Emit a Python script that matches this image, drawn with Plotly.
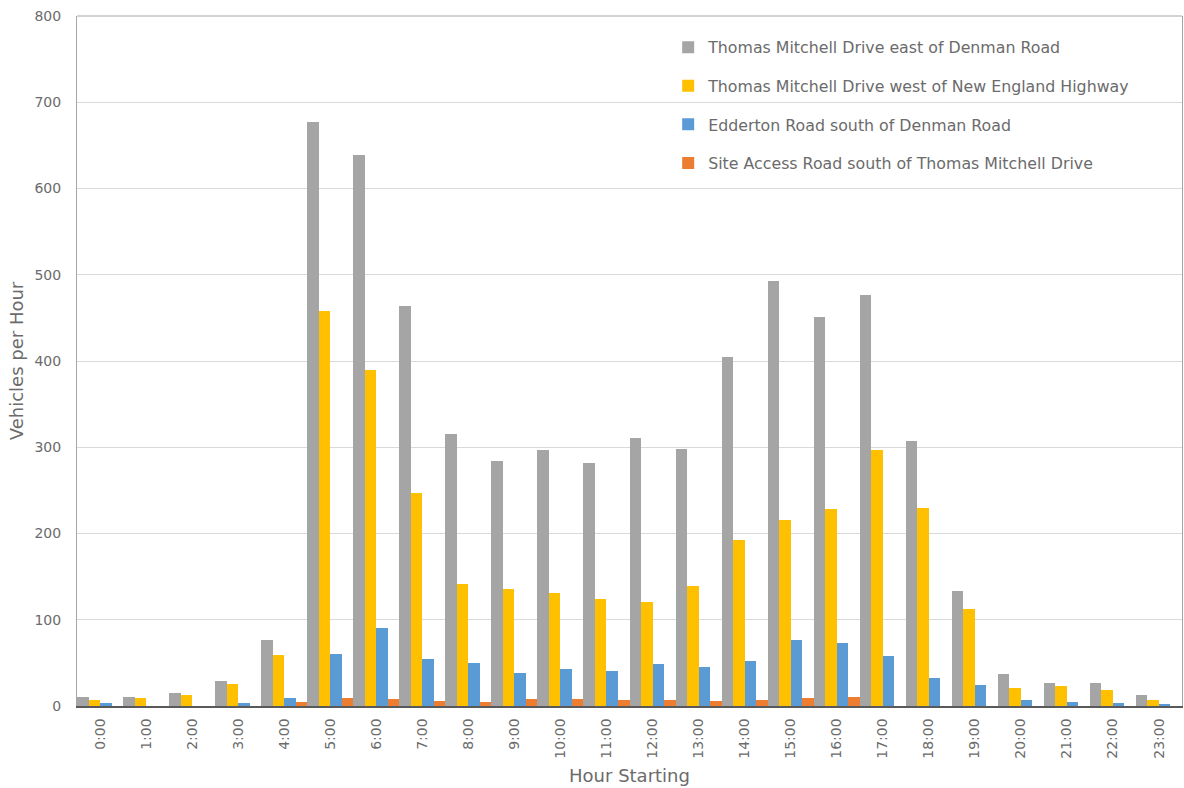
import plotly.graph_objects as go

hours = [f"{h}:00" for h in range(24)]

series_names = [
    "Thomas Mitchell Drive east of Denman Road",
    "Thomas Mitchell Drive west of New England Highway",
    "Edderton Road south of Denman Road",
    "Site Access Road south of Thomas Mitchell Drive",
]

tm_east = [10, 11, 15, 29, 77, 677, 639, 464, 315, 284, 297, 282, 311, 298, 405, 493, 451, 477, 307, 133, 37, 27, 27, 13]
tm_west = [7, 9, 13, 26, 59, 458, 389, 247, 141, 136, 131, 124, 121, 139, 193, 216, 228, 297, 229, 112, 21, 23, 18, 7]
edderton = [3, 0, 0, 3, 9, 60, 91, 55, 50, 38, 43, 41, 49, 45, 52, 77, 73, 58, 33, 24, 7, 5, 3, 2]
site_access = [0, 0, 0, 0, 5, 9, 8, 6, 5, 8, 8, 7, 7, 6, 7, 9, 10, 0, 0, 0, 0, 0, 0, 0]

colors = ["#A5A5A5", "#FFC000", "#5B9BD5", "#ED7D31"]
values = [tm_east, tm_west, edderton, site_access]

font_family = "DejaVu Sans, Open Sans, sans-serif"
text_color = "#6B6B6B"

fig = go.Figure()
for i, (name, vals, col) in enumerate(zip(series_names, values, colors)):
    fig.add_trace(go.Bar(
        x=hours, y=vals, name=name,
        marker=dict(color=col, line=dict(width=0)),
        legendgroup=f"g{i}",
    ))

fig.update_layout(
    width=1184, height=788,
    margin=dict(l=77, r=2, t=16, b=82),
    paper_bgcolor="white", plot_bgcolor="white",
    barmode="group", bargap=0, bargroupgap=0,
    font=dict(family=font_family, color=text_color, size=14),
    legend=dict(
        x=0.535, y=0.979, xanchor="left", yanchor="top",
        bgcolor="rgba(0,0,0,0)",
        font=dict(size=15.8, color=text_color),
        tracegroupgap=15,
        itemwidth=30,
    ),
    showlegend=True,
    xaxis=dict(
        type="category",
        tickangle=-90,
        showline=True, linecolor="#595959", linewidth=1.5,
        ticks="", showgrid=False,
        ticklabelstandoff=5,
        tickfont=dict(size=14, color=text_color),
        title=dict(text="Hour Starting", font=dict(size=18, color=text_color), standoff=12),
    ),
    yaxis=dict(
        range=[0, 800], dtick=100,
        showline=True, mirror=True, linecolor="#A6A6A6", linewidth=1,
        showgrid=True, gridcolor="#D9D9D9", gridwidth=1,
        zeroline=False, ticks="",
        ticklabelstandoff=12,
        tickfont=dict(size=14, color=text_color),
        title=dict(text="Vehicles per Hour", font=dict(size=18, color=text_color), standoff=6),
    ),
    shapes=[dict(type="line", xref="paper", yref="paper", x0=0, x1=1, y0=1, y1=1,
                 line=dict(color="#A6A6A6", width=1))],
)

fig.write_html("out.html")
